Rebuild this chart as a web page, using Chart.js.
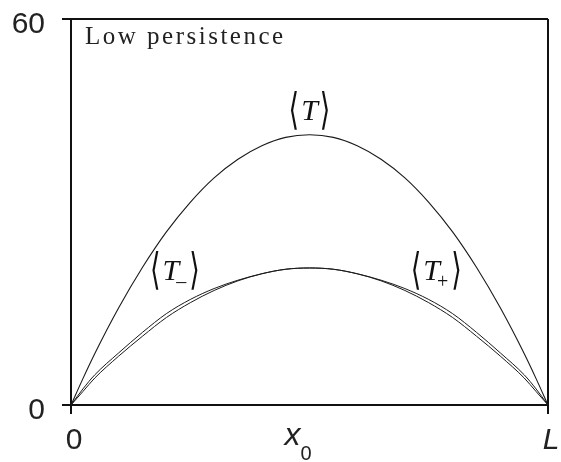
<!DOCTYPE html>
<html>
<head>
<meta charset="utf-8">
<script src="https://cdn.jsdelivr.net/npm/chart.js@4/dist/chart.umd.min.js"></script>
<style>
    html, body { margin: 0; padding: 0; background: #fff; }
    #wrap { width: 561px; height: 462px; }
</style>
</head>
<body>
<div id="wrap"><canvas id="chart"></canvas></div>
<script>
// Mean first-passage times vs. starting point x0 (L = 1)
const xPos   = [0, 0.025, 0.05, 0.1, 0.15, 0.2, 0.25, 0.3, 0.35, 0.4, 0.45, 0.5, 0.55, 0.6, 0.65, 0.7, 0.75, 0.8, 0.85, 0.9, 0.95, 0.975, 1];
const tMean  = [0, 4.1, 8.0, 15.1, 21.4, 26.9, 31.5, 35.3, 38.2, 40.3, 41.6, 42.0, 41.6, 40.3, 38.2, 35.3, 31.5, 26.9, 21.4, 15.1, 8.0, 4.1, 0];
const tMinus = [0, 2.5, 4.7, 8.1, 11.3, 14.2, 16.4, 18.1, 19.4, 20.4, 21.1, 21.3, 21.1, 20.4, 19.3, 17.8, 15.9, 13.6, 10.7, 7.6, 4.2, 2.1, 0];
const tPlus  = [0, 2.1, 4.2, 7.6, 10.7, 13.6, 15.9, 17.8, 19.3, 20.4, 21.1, 21.3, 21.1, 20.4, 19.4, 18.1, 16.4, 14.2, 11.3, 8.1, 4.7, 2.5, 0];

const yTicks = [0, 60];
const xTicks = [0, 1];
const xTickLabels = ['0', 'L'];

// curve labels, anchored in data coordinates
const curveLabels = [
    { x: 0.5,  y: 45.5, sub: '' },
    { x: 0.22, y: 20.6, sub: '\u2013' },
    { x: 0.768, y: 20.6, sub: '+' }
];

function toPoints(values) {
    return xPos.map((x, i) => ({ x: x, y: values[i] }));
}

function lineSet(label, values, width) {
    return {
        label: label,
        data: toPoints(values),
        borderColor: '#1a1a1a',
        borderWidth: width,
        pointRadius: 0,
        fill: false,
        cubicInterpolationMode: 'monotone'
    };
}

// tall thin angle bracket glyph
function drawBracket(ctx, ch, x, cy) {
    ctx.save();
    ctx.translate(x, cy);
    ctx.scale(0.9, 1.45);
    ctx.font = '30px "DejaVu Sans"';
    ctx.textBaseline = 'middle';
    ctx.textAlign = 'left';
    ctx.fillText(ch, 0, 0);
    ctx.restore();
}

// draws <T>, <T->, <T+> with angle brackets
function drawBracketLabel(ctx, cx, cy, sub) {
    const tFont = 'italic 30px "Liberation Serif"';
    const subFont = '20px "Liberation Serif"';
    ctx.font = '30px "DejaVu Sans"';
    const wl = ctx.measureText('\u27E8').width * 0.9;
    ctx.font = tFont;
    const wt = ctx.measureText('T').width;
    ctx.font = subFont;
    const ws = sub ? ctx.measureText(sub).width : 0;
    const total = wl * 2 + wt + ws + 4;
    let x = cx - total / 2;
    drawBracket(ctx, '\u27E8', x, cy);
    x += wl + 2;
    ctx.textBaseline = 'middle';
    ctx.textAlign = 'left';
    ctx.font = tFont;
    ctx.fillText('T', x, cy);
    x += wt;
    if (sub) {
        ctx.font = subFont;
        ctx.fillText(sub, x - 3, cy + 10);
        x += ws - 2;
    }
    drawBracket(ctx, '\u27E9', x + 2, cy);
}

const textPlugin = {
    id: 'textPlugin',
    afterDraw(chart) {
        const ctx = chart.ctx;
        const xs = chart.scales.x;
        const ys = chart.scales.y;
        const area = chart.chartArea;
        ctx.save();
        ctx.fillStyle = '#222';

        // panel title
        ctx.font = '25px "Liberation Serif"';
        ctx.letterSpacing = '2.5px';
        ctx.textAlign = 'left';
        ctx.textBaseline = 'alphabetic';
        ctx.fillText('Low persistence', area.left + 14, area.top + 25);
        ctx.letterSpacing = '0px';

        // x tick labels
        xTicks.forEach((v, i) => {
            ctx.font = (xTickLabels[i] === 'L' ? 'italic ' : '') + '30px "Liberation Sans"';
            ctx.textAlign = 'center';
            ctx.textBaseline = 'middle';
            ctx.fillText(xTickLabels[i], xs.getPixelForValue(v) + 3, area.bottom + 36);
        });

        // x axis title x0
        const mid = (area.left + area.right) / 2;
        ctx.font = 'italic 32px "Liberation Sans"';
        ctx.textAlign = 'right';
        ctx.textBaseline = 'alphabetic';
        ctx.fillText('x', mid - 9, area.bottom + 40);
        ctx.font = '20px "Liberation Sans"';
        ctx.textAlign = 'left';
        ctx.fillText('0', mid - 9, area.bottom + 55);

        // curve labels
        ctx.fillStyle = '#111';
        curveLabels.forEach(l => {
            drawBracketLabel(ctx, xs.getPixelForValue(l.x), ys.getPixelForValue(l.y), l.sub);
        });
        ctx.restore();
    }
};

new Chart(document.getElementById('chart'), {
    type: 'line',
    data: {
        datasets: [
            lineSet('T', tMean, 1.1),
            lineSet('T-', tMinus, 1),
            lineSet('T+', tPlus, 1)
        ]
    },
    options: {
        responsive: true,
        maintainAspectRatio: false,
        animation: false,
        layout: { padding: { top: 19, right: 13, left: 0, bottom: 0 } },
        plugins: {
            legend: { display: false },
            tooltip: { enabled: false }
        },
        scales: {
            x: {
                type: 'linear',
                min: 0,
                max: 1,
                afterBuildTicks: s => { s.ticks = xTicks.map(v => ({ value: v })); },
                afterFit: s => { s.height = 57; s.paddingLeft = 0; s.paddingRight = 0; },
                ticks: { display: false },
                grid: { color: '#111', lineWidth: 2, tickLength: 9, drawOnChartArea: true },
                border: { color: '#111', width: 2 }
            },
            y: {
                min: 0,
                max: 60,
                afterBuildTicks: s => { s.ticks = yTicks.map(v => ({ value: v })); },
                afterFit: s => { s.width = 71; s.paddingTop = 0; s.paddingBottom = 0; },
                ticks: {
                    color: '#222',
                    font: { family: 'Liberation Sans', size: 30 },
                    padding: 17,
                    labelOffset: 6
                },
                grid: { color: '#111', lineWidth: 2, tickLength: 9, drawOnChartArea: true },
                border: { color: '#111', width: 2 }
            }
        }
    },
    plugins: [textPlugin]
});
</script>
</body>
</html>
